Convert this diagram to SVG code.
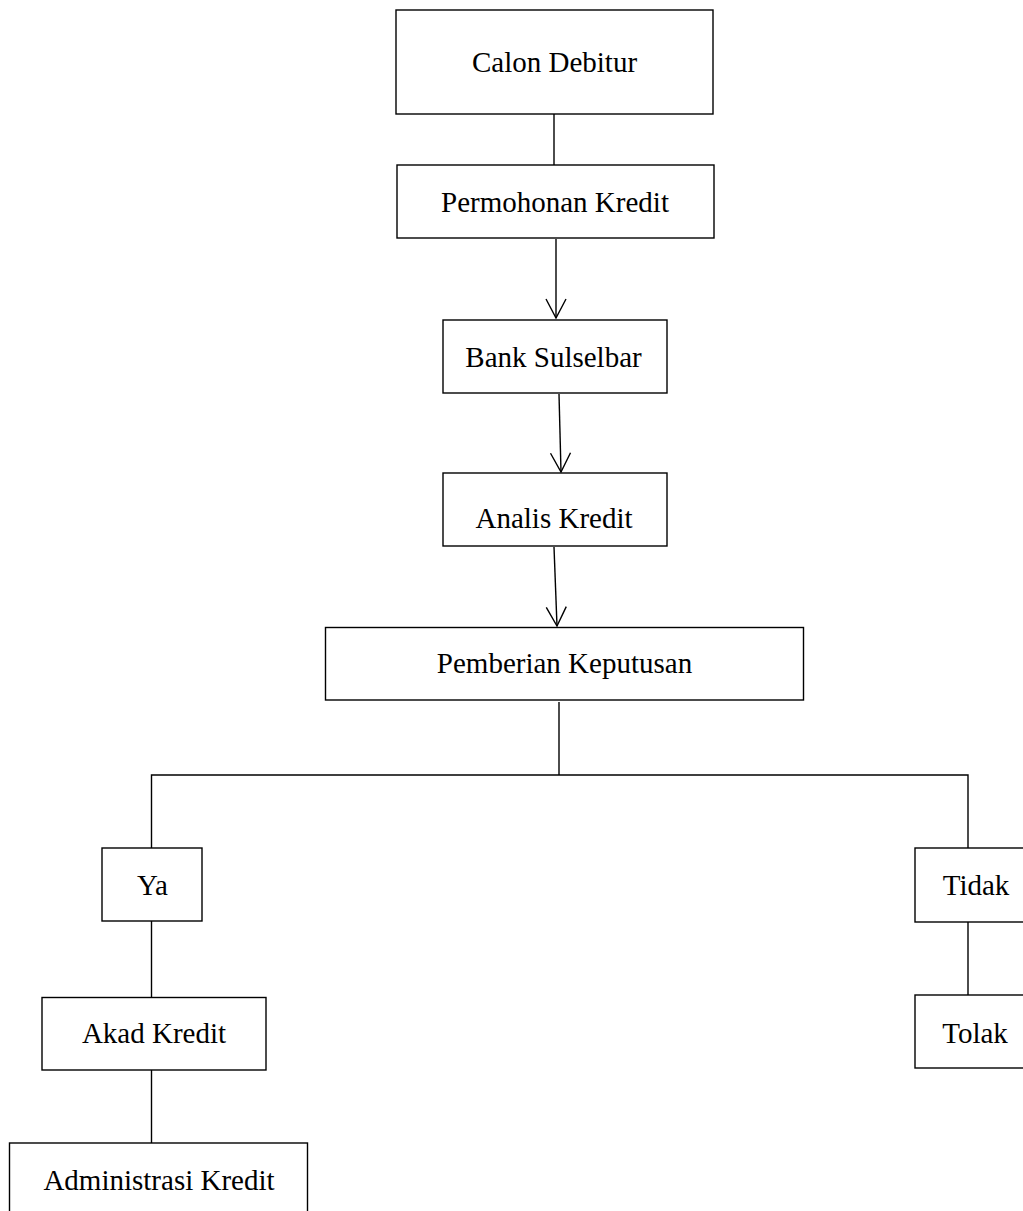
<svg xmlns="http://www.w3.org/2000/svg" width="1023" height="1211" viewBox="0 0 1023 1211">
<style>
.box{fill:#fff;stroke:#000;stroke-width:1.4}
.lbl{font-family:"Liberation Serif","Times New Roman",serif;font-size:29px;fill:#000;text-anchor:middle}
.ln{fill:none;stroke:#000;stroke-width:1.4}
</style>
<defs>
<marker id="arr" markerUnits="userSpaceOnUse" markerWidth="24" markerHeight="24" refX="20" refY="10" orient="auto" overflow="visible">
<path d="M1,0 L20,10 L1,20" fill="none" stroke="#000" stroke-width="1.4"/>
</marker>
</defs>
<rect width="1023" height="1211" fill="#fff"/>
<g id="connectors">
<line class="ln" x1="554" y1="114" x2="554" y2="165"/>
<line class="ln" x1="556" y1="239" x2="556" y2="318" marker-end="url(#arr)"/>
<line class="ln" x1="559" y1="394" x2="561" y2="472" marker-end="url(#arr)"/>
<line class="ln" x1="554" y1="547" x2="557" y2="626" marker-end="url(#arr)"/>
<line class="ln" x1="559" y1="702" x2="559" y2="775"/>
<polyline class="ln" points="151.5,848 151.5,775 968,775 968,848"/>
<line class="ln" x1="151.5" y1="921" x2="151.5" y2="997"/>
<line class="ln" x1="151.5" y1="1070" x2="151.5" y2="1143"/>
<line class="ln" x1="968" y1="922" x2="968" y2="995"/>
</g>
<g id="calon-debitur">
<rect class="box" x="396" y="10" width="317" height="104"/>
<text class="lbl" x="554.5" y="72">Calon Debitur</text>
</g>
<g id="permohonan-kredit">
<rect class="box" x="397" y="165" width="317" height="73"/>
<text class="lbl" x="555" y="212">Permohonan Kredit</text>
</g>
<g id="bank-sulselbar">
<rect class="box" x="443" y="320" width="224" height="73"/>
<text class="lbl" x="553.5" y="367">Bank Sulselbar</text>
</g>
<g id="analis-kredit">
<rect class="box" x="443" y="473" width="224" height="73"/>
<text class="lbl" x="554" y="528">Analis Kredit</text>
</g>
<g id="pemberian-keputusan">
<rect class="box" x="325.5" y="627.5" width="478" height="72.5"/>
<text class="lbl" x="564.5" y="673">Pemberian Keputusan</text>
</g>
<g id="ya">
<rect class="box" x="102" y="848" width="100" height="73"/>
<text class="lbl" x="152.5" y="895">Ya</text>
</g>
<g id="akad-kredit">
<rect class="box" x="42" y="997.5" width="224" height="72.5"/>
<text class="lbl" x="154" y="1043">Akad Kredit</text>
</g>
<g id="administrasi-kredit">
<rect class="box" x="9.5" y="1143" width="298" height="80"/>
<text class="lbl" x="159" y="1190">Administrasi Kredit</text>
</g>
<g id="tidak">
<rect class="box" x="915" y="848" width="120" height="74"/>
<text class="lbl" x="976" y="895">Tidak</text>
</g>
<g id="tolak">
<rect class="box" x="915" y="995" width="120" height="73"/>
<text class="lbl" x="975" y="1043">Tolak</text>
</g>
</svg>
